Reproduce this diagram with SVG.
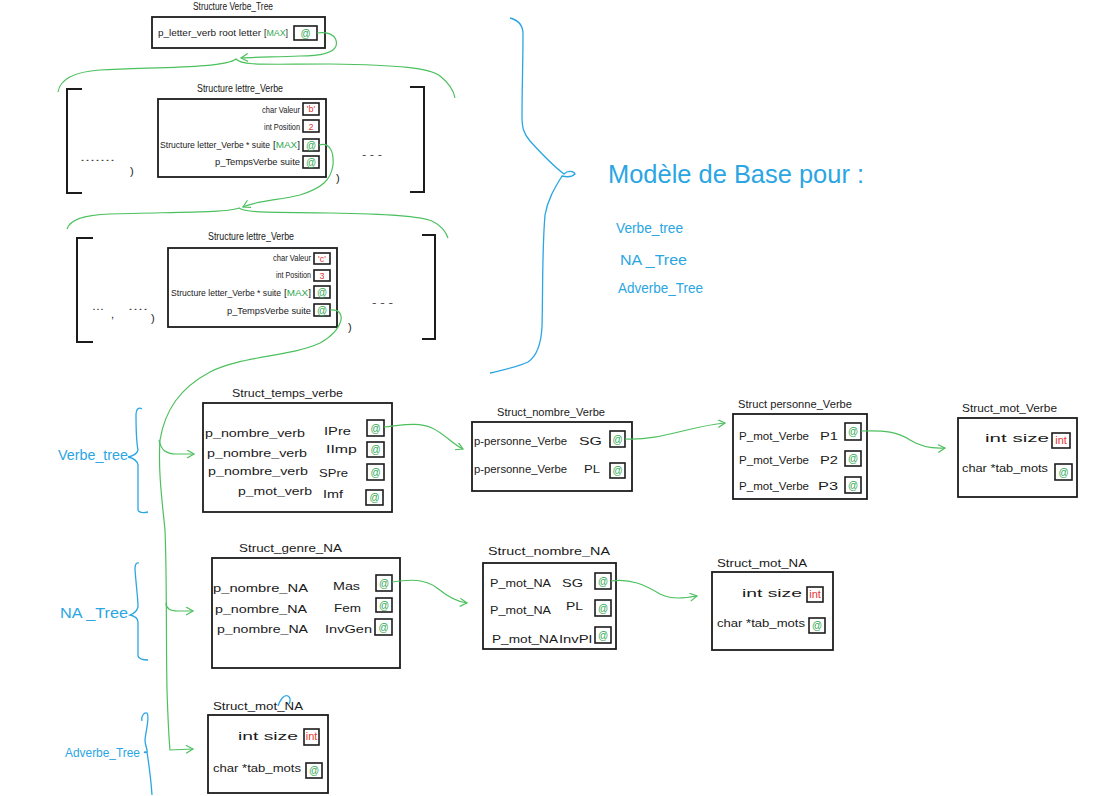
<svg xmlns="http://www.w3.org/2000/svg" width="1118" height="796" viewBox="0 0 1118 796">
<style>
.t{font-family:"Liberation Sans",Arial,sans-serif;font-size:11px;fill:#1a1a1a}
.ttl{font-size:10px}
.s9{font-size:9px}
.at{font-family:"Liberation Sans",Arial,sans-serif;font-size:10px;fill:#2fa84f;text-anchor:middle}
.red{fill:#e53935}
.grn{fill:#2fa84f}
.blue{font-family:"Liberation Sans",Arial,sans-serif;fill:#2ba6e3}
.frame{fill:none;stroke:#1c1c1c;stroke-width:1.8}
.cell{fill:none;stroke:#1c1c1c;stroke-width:1.6}
.conn{fill:none;stroke:#4cc05e;stroke-width:1.2}
.bl{fill:none;stroke:#2ba6e3;stroke-width:1.3}
.brk{fill:none;stroke:#1c1c1c;stroke-width:2}
.dots{font-family:"Liberation Sans",Arial,sans-serif;font-size:11px;fill:#444}
</style>
<defs>
<marker id="arr" markerWidth="10" markerHeight="10" refX="8" refY="4" orient="auto" markerUnits="userSpaceOnUse">
<path d="M1,0 L8,4 L1,8" fill="none" stroke="#4cc05e" stroke-width="1.2"/>
</marker>
</defs>
<rect width="1118" height="796" fill="#ffffff"/>

<!-- Top node -->
<g id="verbe-tree-root">
<text class="t ttl" x="193" y="10" textLength="80" lengthAdjust="spacingAndGlyphs">Structure Verbe_Tree</text>
<rect class="frame" x="152" y="17" width="173" height="31"/>
<text class="t s9" x="158" y="36" textLength="103" lengthAdjust="spacingAndGlyphs">p_letter_verb root letter</text>
<text class="t s9" x="264" y="36" textLength="24" lengthAdjust="spacingAndGlyphs"><tspan>[</tspan><tspan class="grn">MAX</tspan><tspan>]</tspan></text>
<rect class="cell" x="294" y="26" width="23" height="14"/>
<text class="at" x="305.5" y="37">@</text>
</g>

<!-- Letter struct 1 -->
<g id="lettre-verbe-1">
<path class="brk" d="M82,89 L67,89 L67,193 L82,193"/>
<path class="brk" d="M410,87 L424,87 L424,192 L410,192"/>
<text class="t ttl" x="197" y="92" textLength="86" lengthAdjust="spacingAndGlyphs">Structure lettre_Verbe</text>
<rect class="frame" x="158" y="99" width="168" height="78"/>
<text class="t s9" x="262" y="113" textLength="38" lengthAdjust="spacingAndGlyphs">char Valeur</text>
<rect class="cell" x="303" y="103" width="16" height="12"/>
<text class="t s9 red" x="311" y="112" text-anchor="middle">'b'</text>
<text class="t s9" x="264" y="130" textLength="36" lengthAdjust="spacingAndGlyphs">int Position</text>
<rect class="cell" x="303" y="120" width="16" height="12"/>
<text class="t s9 red" x="311" y="129.5" text-anchor="middle">2</text>
<text class="t s9" x="160" y="148" textLength="110" lengthAdjust="spacingAndGlyphs">Structure letter_Verbe * suite</text>
<text class="t s9" x="273" y="148" textLength="27" lengthAdjust="spacingAndGlyphs"><tspan>[</tspan><tspan class="grn">MAX</tspan><tspan>]</tspan></text>
<rect class="cell" x="303" y="139" width="16" height="12"/>
<text class="at" x="311" y="148.5">@</text>
<text class="t s9" x="215" y="165" textLength="85" lengthAdjust="spacingAndGlyphs">p_TempsVerbe  suite</text>
<rect class="cell" x="303" y="156" width="16" height="12"/>
<text class="at" x="311" y="165.5">@</text>
<text class="dots" x="80" y="161" textLength="35" lengthAdjust="spacingAndGlyphs">.......</text>
<text class="t" x="130" y="175" font-size="16">)</text>
<text class="dots" x="362" y="158" textLength="20" lengthAdjust="spacingAndGlyphs">- - -</text>
<text class="t" x="336" y="182" font-size="16">)</text>
</g>

<!-- Letter struct 2 -->
<g id="lettre-verbe-2">
<path class="brk" d="M93,238 L77,238 L77,342 L93,342"/>
<path class="brk" d="M422,235 L435,235 L435,339 L422,339"/>
<text class="t ttl" x="208" y="240" textLength="86" lengthAdjust="spacingAndGlyphs">Structure lettre_Verbe</text>
<rect class="frame" x="168" y="248" width="169" height="79"/>
<text class="t s9" x="273" y="261" textLength="38" lengthAdjust="spacingAndGlyphs">char Valeur</text>
<rect class="cell" x="314" y="253" width="16" height="11"/>
<text class="t s9 red" x="322" y="262" text-anchor="middle">'c'</text>
<text class="t s9" x="276" y="278" textLength="35" lengthAdjust="spacingAndGlyphs">int Position</text>
<rect class="cell" x="314" y="270" width="16" height="11"/>
<text class="t s9 red" x="322" y="279" text-anchor="middle">3</text>
<text class="t s9" x="171" y="296" textLength="110" lengthAdjust="spacingAndGlyphs">Structure letter_Verbe * suite</text>
<text class="t s9" x="284" y="296" textLength="27" lengthAdjust="spacingAndGlyphs"><tspan>[</tspan><tspan class="grn">MAX</tspan><tspan>]</tspan></text>
<rect class="cell" x="314" y="286" width="16" height="12"/>
<text class="at" x="322" y="295.5">@</text>
<text class="t s9" x="227" y="314" textLength="84" lengthAdjust="spacingAndGlyphs">p_TempsVerbe  suite</text>
<rect class="cell" x="314" y="304" width="16" height="12"/>
<text class="at" x="322" y="313.5">@</text>
<text class="dots" x="92" y="310" textLength="12" lengthAdjust="spacingAndGlyphs">...</text>
<text class="t" x="111" y="318" font-size="14">,</text>
<text class="dots" x="128" y="310" textLength="20" lengthAdjust="spacingAndGlyphs">....</text>
<text class="t" x="151" y="322" font-size="16">)</text>
<text class="dots" x="372" y="306" textLength="21" lengthAdjust="spacingAndGlyphs">- - -</text>
<text class="t" x="348" y="331" font-size="16">)</text>
</g>

<!-- Right annotation -->
<g id="modele-annotation">
<path class="bl" d="M510,18 C518,20 523,24 523,34 C523,60 522,90 522,117 C522,128 524,134 530,141 C540,152 552,165 564,174 C568,170 574,171 575,174 C572,177 566,177 562,176 C556,186 548,198 545,215 C542,250 543,290 542,327 C541,345 537,356 528,362 C518,367 502,370 490,373"/>
<text class="blue" x="608" y="183" font-size="25" textLength="256" lengthAdjust="spacingAndGlyphs">Modèle de Base pour :</text>
<text class="blue" x="616" y="233" font-size="14" textLength="67" lengthAdjust="spacingAndGlyphs">Verbe_tree</text>
<text class="blue" x="620" y="265" font-size="14" textLength="67" lengthAdjust="spacingAndGlyphs">NA _Tree</text>
<text class="blue" x="618" y="293" font-size="14" textLength="85" lengthAdjust="spacingAndGlyphs">Adverbe_Tree</text>
</g>

<!-- Left labels -->
<g id="label-verbe-tree">
<path class="bl" d="M142,409 C139,407 136,409 136,414 C136,425 136,440 138,450 C137,454 133,456 128,457 C133,458 137,460 138,465 C138,480 138,500 138,510 C139,513 143,513 148,512"/>
<text class="blue" x="58" y="460" font-size="15" textLength="70" lengthAdjust="spacingAndGlyphs">Verbe_tree</text>
</g>
<g id="label-na-tree">
<path class="bl" d="M139,563 C136,562 135,565 135,569 C136,585 138,598 138,607 C137,611 133,614 130,615 C134,616 138,618 138,622 C138,635 138,648 138,656 C139,659 143,660 148,660"/>
<text class="blue" x="60" y="618" font-size="15" textLength="68" lengthAdjust="spacingAndGlyphs">NA _Tree</text>
</g>
<g id="label-adverbe-tree">
<path class="bl" d="M142,721 C141,716 144,712 147,713 C150,716 146,730 145,740 C145,746 148,750 147,752 C144,754 143,751 147,752 C149,765 151,780 152,795"/>
<text class="blue" x="65" y="757" font-size="12" textLength="75" lengthAdjust="spacingAndGlyphs">Adverbe_Tree</text>
</g>

<!-- Struct_temps_verbe -->
<g id="struct-temps-verbe">
<text class="t" x="232" y="397" textLength="111" lengthAdjust="spacingAndGlyphs">Struct_temps_verbe</text>
<rect class="frame" x="203" y="403" width="189" height="109"/>
<text class="t" x="205" y="437" textLength="100" lengthAdjust="spacingAndGlyphs">p_nombre_verb</text>
<text class="t" x="324" y="435" font-size="13" textLength="27" lengthAdjust="spacingAndGlyphs">IPre</text>
<rect class="cell" x="367" y="420" width="17" height="16"/>
<text class="at" x="375.5" y="431.5">@</text>
<text class="t" x="207" y="457" textLength="100" lengthAdjust="spacingAndGlyphs">p_nombre_verb</text>
<text class="t" x="326" y="453" font-size="13" textLength="31" lengthAdjust="spacingAndGlyphs">IImp</text>
<rect class="cell" x="367" y="442" width="17" height="15"/>
<text class="at" x="375.5" y="453">@</text>
<text class="t" x="208" y="475" textLength="100" lengthAdjust="spacingAndGlyphs">p_nombre_verb</text>
<text class="t" x="319" y="477" font-size="13" textLength="29" lengthAdjust="spacingAndGlyphs">SPre</text>
<rect class="cell" x="367" y="464" width="17" height="16"/>
<text class="at" x="375.5" y="475.5">@</text>
<text class="t" x="238" y="495" textLength="74" lengthAdjust="spacingAndGlyphs">p_mot_verb</text>
<text class="t" x="323" y="498" font-size="13" textLength="20" lengthAdjust="spacingAndGlyphs">Imf</text>
<rect class="cell" x="366" y="490" width="17" height="15"/>
<text class="at" x="374.5" y="501">@</text>
</g>

<!-- Struct_nombre_Verbe -->
<g id="struct-nombre-verbe">
<text class="t" x="497" y="416" textLength="108" lengthAdjust="spacingAndGlyphs">Struct_nombre_Verbe</text>
<rect class="frame" x="472" y="422" width="160" height="69"/>
<text class="t" x="474" y="445" textLength="93" lengthAdjust="spacingAndGlyphs">p-personne_Verbe</text>
<text class="t" x="579" y="445" font-size="13" textLength="23" lengthAdjust="spacingAndGlyphs">SG</text>
<rect class="cell" x="610" y="431" width="15" height="16"/>
<text class="at" x="617.5" y="442.5">@</text>
<text class="t" x="474" y="473" textLength="93" lengthAdjust="spacingAndGlyphs">p-personne_Verbe</text>
<text class="t" x="584" y="473" font-size="13" textLength="16" lengthAdjust="spacingAndGlyphs">PL</text>
<rect class="cell" x="610" y="463" width="15" height="15"/>
<text class="at" x="617.5" y="474">@</text>
</g>

<!-- Struct personne_Verbe -->
<g id="struct-personne-verbe">
<text class="t" x="738" y="408" textLength="114" lengthAdjust="spacingAndGlyphs">Struct personne_Verbe</text>
<rect class="frame" x="733" y="414" width="134" height="85"/>
<text class="t" x="739" y="440" textLength="70" lengthAdjust="spacingAndGlyphs">P_mot_Verbe</text>
<text class="t" x="820" y="440" font-size="13" textLength="18" lengthAdjust="spacingAndGlyphs">P1</text>
<rect class="cell" x="845" y="423" width="16" height="17"/>
<text class="at" x="853" y="435">@</text>
<text class="t" x="739" y="464" textLength="70" lengthAdjust="spacingAndGlyphs">P_mot_Verbe</text>
<text class="t" x="820" y="464" font-size="13" textLength="18" lengthAdjust="spacingAndGlyphs">P2</text>
<rect class="cell" x="845" y="451" width="16" height="15"/>
<text class="at" x="853" y="462">@</text>
<text class="t" x="739" y="490" textLength="70" lengthAdjust="spacingAndGlyphs">P_mot_Verbe</text>
<text class="t" x="818" y="490" font-size="13" textLength="20" lengthAdjust="spacingAndGlyphs">P3</text>
<rect class="cell" x="845" y="477" width="16" height="16"/>
<text class="at" x="853" y="488.5">@</text>
</g>

<!-- Struct_mot_Verbe -->
<g id="struct-mot-verbe">
<text class="t" x="962" y="412" textLength="95" lengthAdjust="spacingAndGlyphs">Struct_mot_Verbe</text>
<rect class="frame" x="958" y="418" width="119" height="79"/>
<text class="t" x="985" y="442" font-size="12" textLength="64" lengthAdjust="spacingAndGlyphs">int size</text>
<rect class="cell" x="1052" y="433" width="18" height="15"/>
<text class="t red" x="1061" y="443.5" font-size="8" text-anchor="middle">int</text>
<text class="t" x="962" y="472" textLength="86" lengthAdjust="spacingAndGlyphs">char *tab_mots</text>
<rect class="cell" x="1055" y="464" width="17" height="16"/>
<text class="at" x="1063.5" y="475.5">@</text>
</g>

<!-- Struct_genre_NA -->
<g id="struct-genre-na">
<text class="t" x="239" y="552" textLength="103" lengthAdjust="spacingAndGlyphs">Struct_genre_NA</text>
<rect class="frame" x="212" y="558" width="188" height="110"/>
<text class="t" x="213" y="592" textLength="95" lengthAdjust="spacingAndGlyphs">p_nombre_NA</text>
<text class="t" x="333" y="590" font-size="13" textLength="27" lengthAdjust="spacingAndGlyphs">Mas</text>
<rect class="cell" x="376" y="575" width="16" height="16"/>
<text class="at" x="384" y="586.5">@</text>
<text class="t" x="215" y="613" textLength="92" lengthAdjust="spacingAndGlyphs">p_nombre_NA</text>
<text class="t" x="334" y="612" font-size="13" textLength="27" lengthAdjust="spacingAndGlyphs">Fem</text>
<rect class="cell" x="376" y="598" width="16" height="14"/>
<text class="at" x="384" y="608.5">@</text>
<text class="t" x="217" y="633" textLength="91" lengthAdjust="spacingAndGlyphs">p_nombre_NA</text>
<text class="t" x="325" y="633" font-size="13" textLength="47" lengthAdjust="spacingAndGlyphs">InvGen</text>
<rect class="cell" x="375" y="619" width="17" height="16"/>
<text class="at" x="383.5" y="630.5">@</text>
</g>

<!-- Struct_nombre_NA -->
<g id="struct-nombre-na">
<text class="t" x="488" y="555" font-size="12" textLength="122" lengthAdjust="spacingAndGlyphs">Struct_nombre_NA</text>
<rect class="frame" x="483" y="563" width="133" height="86"/>
<text class="t" x="490" y="587" textLength="61" lengthAdjust="spacingAndGlyphs">P_mot_NA</text>
<text class="t" x="562" y="587" font-size="13" textLength="21" lengthAdjust="spacingAndGlyphs">SG</text>
<rect class="cell" x="595" y="573" width="16" height="16"/>
<text class="at" x="603" y="584.5">@</text>
<text class="t" x="490" y="614" textLength="61" lengthAdjust="spacingAndGlyphs">P_mot_NA</text>
<text class="t" x="566" y="610" font-size="13" textLength="17" lengthAdjust="spacingAndGlyphs">PL</text>
<rect class="cell" x="595" y="600" width="16" height="16"/>
<text class="at" x="603" y="611.5">@</text>
<text class="t" x="492" y="643" textLength="66" lengthAdjust="spacingAndGlyphs">P_mot_NA</text>
<text class="t" x="559" y="643" textLength="33" lengthAdjust="spacingAndGlyphs">InvPl</text>
<rect class="cell" x="595" y="627" width="16" height="16"/>
<text class="at" x="603" y="638.5">@</text>
</g>

<!-- Struct_mot_NA -->
<g id="struct-mot-na">
<text class="t" x="717" y="567" textLength="90" lengthAdjust="spacingAndGlyphs">Struct_mot_NA</text>
<rect class="frame" x="712" y="572" width="121" height="78"/>
<text class="t" x="742" y="597" font-size="12" textLength="60" lengthAdjust="spacingAndGlyphs">int size</text>
<rect class="cell" x="807" y="587" width="16" height="15"/>
<text class="t red" x="815" y="597.5" font-size="8" text-anchor="middle">int</text>
<text class="t" x="717" y="627" textLength="88" lengthAdjust="spacingAndGlyphs">char *tab_mots</text>
<rect class="cell" x="809" y="618" width="16" height="15"/>
<text class="at" x="817" y="629">@</text>
</g>

<!-- Adverbe struct -->
<g id="struct-mot-adverbe">
<text class="t" x="213" y="710" textLength="90" lengthAdjust="spacingAndGlyphs">Struct_mot_NA</text>
<path class="bl" d="M278,706 C280,700 284,694 288,696 C291,698 290,702 289,704"/>
<rect class="frame" x="208" y="715" width="120" height="78"/>
<text class="t" x="238" y="740" font-size="12" textLength="60" lengthAdjust="spacingAndGlyphs">int size</text>
<rect class="cell" x="304" y="729" width="15" height="16"/>
<text class="t red" x="311.5" y="740" font-size="8" text-anchor="middle">int</text>
<text class="t" x="213" y="772" textLength="88" lengthAdjust="spacingAndGlyphs">char *tab_mots</text>
<rect class="cell" x="306" y="763" width="16" height="15"/>
<text class="at" x="314" y="774">@</text>
</g>

<!-- Connectors -->
<g id="connectors">
<path class="conn" d="M317,33 C332,31 338,38 336,46 C333,54 318,56 300,56 C275,57 255,57 241,58" marker-end="url(#arr)"/>
<path class="conn" d="M58,92 C60,80 72,72 100,70 C160,67 225,68 236,59 C242,66 265,64 330,64 C400,65 430,68 440,76 C450,84 454,92 455,98"/>
<path class="conn" d="M319,145 C330,142 334,152 333,165 C331,180 322,188 300,195 C280,200 255,201 243,207" marker-end="url(#arr)"/>
<path class="conn" d="M67,229 C70,220 82,215 110,214 C170,212 228,213 239,208 C246,213 270,212 330,213 C390,214 420,216 432,221 C442,226 446,232 448,238"/>
<path class="conn" d="M330,310 C348,308 344,330 320,343 C290,357 240,356 210,372 C180,388 165,410 160,440 C158,470 162,500 165,530 C167,580 166,640 167,690 C168,720 169,740 170,750 L193,749" marker-end="url(#arr)"/>
<path class="conn" d="M159,440 C161,450 166,454 176,454 L194,454" marker-end="url(#arr)"/>
<path class="conn" d="M166,603 C166,609 170,611 178,611 L193,611" marker-end="url(#arr)"/>
<path class="conn" d="M384,427 C405,425 418,422 432,428 C445,434 452,444 463,449" marker-end="url(#arr)"/>
<path class="conn" d="M625,439 C660,441 690,426 725,423" marker-end="url(#arr)"/>
<path class="conn" d="M861,431 C885,430 898,432 910,440 C920,446 932,449 945,448" marker-end="url(#arr)"/>
<path class="conn" d="M392,582 C412,579 425,579 437,588 C447,596 456,602 467,603" marker-end="url(#arr)"/>
<path class="conn" d="M611,581 C630,578 645,585 660,594 C672,600 685,598 697,596" marker-end="url(#arr)"/>
</g>
</svg>
